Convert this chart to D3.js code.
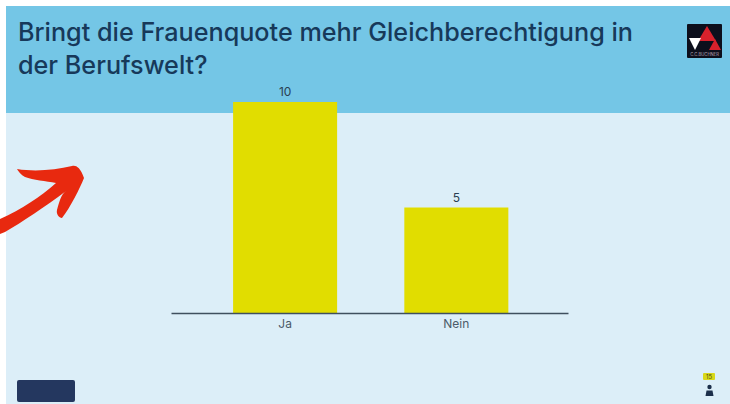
<!DOCTYPE html>
<html lang="de">
<head>
<meta charset="utf-8">
<script src="https://cdn.jsdelivr.net/npm/d3@7"></script>
<style>
  html, body { margin: 0; padding: 0; background: #fff; }
  svg { display: block; }
  text { font-family: "Inter", "Noto Sans", sans-serif; }
</style>
</head>
<body>
<div id="chart"></div>
<script>
// Poll result: answers and vote counts
const answers = ["Ja", "Nein"];
const votes = [10, 5];
const titleLines = ["Bringt die Frauenquote mehr Gleichberechtigung in", "der Berufswelt?"];
const voterCount = "15";

const width = 730, height = 404;
const svg = d3.select("#chart").append("svg").attr("width", width).attr("height", height);

// Slide background and header band
svg.append("rect").attr("x", 6).attr("y", 6).attr("width", width - 6).attr("height", height - 6).attr("fill", "#dceef8");
svg.append("rect").attr("x", 6).attr("y", 6).attr("width", width - 6).attr("height", 107).attr("fill", "#74c6e6");

svg.selectAll("text.title").data(titleLines).join("text")
  .attr("class", "title")
  .attr("x", 18)
  .attr("y", (d, i) => 41 + i * 33)
  .attr("font-size", 25.2)
  .attr("font-weight", 500)
  .attr("fill", "#17395a")
  .text(d => d);

// Publisher badge
const badge = svg.append("g").attr("transform", "translate(687,24)");
badge.append("rect").attr("width", 35).attr("height", 34).attr("rx", 1).attr("fill", "#0d0f1c");
badge.append("path").attr("d", "M20 2L29 17H11Z").attr("fill", "#d8212c");
badge.append("path").attr("d", "M28 15L34 26H22Z").attr("fill", "#d8212c");
badge.append("path").attr("d", "M2 14H14L8 26Z").attr("fill", "#ffffff");
badge.append("text").attr("x", 17.5).attr("y", 32).attr("text-anchor", "middle")
  .attr("font-size", 4.2).attr("fill", "#b9a9b8").text("C.C.BUCHNER");

// Scales
const x = d3.scaleBand().domain(answers).range([171, 568]).paddingInner(0.3925).paddingOuter(0.3555).align(0.51);
const y = d3.scaleLinear().domain([0, 10]).range([313, 102]);

// Bars and their value labels
svg.selectAll("rect.bar").data(votes).join("rect")
  .attr("class", "bar")
  .attr("x", (d, i) => x(answers[i]))
  .attr("y", d => y(d))
  .attr("width", x.bandwidth())
  .attr("height", d => y(0) - y(d))
  .attr("fill", "#e1dd00");

svg.selectAll("text.value").data(votes).join("text")
  .attr("class", "value")
  .attr("x", (d, i) => x(answers[i]) + x.bandwidth() / 2)
  .attr("y", d => y(d) - 6)
  .attr("text-anchor", "middle")
  .attr("font-size", 12)
  .attr("fill", "#2a3f52")
  .text(d => d);

// Category axis
const axis = svg.append("g").attr("transform", "translate(0,313)")
  .call(d3.axisBottom(x).tickSize(0).tickPadding(6));
axis.select(".domain").attr("stroke", "#3f4f5e").attr("stroke-width", 1.5);
axis.selectAll("text").attr("font-size", 12).attr("fill", "#4b5a68").style("font-family", '"Inter", "Noto Sans", sans-serif');

// Hand-drawn red arrow pointing at the chart
svg.append("path")
  .attr("d", "M0 219C22 209 40 197 56 183C46 181 33 180 25 177C21 175 18 171 17 169C35 172 55 170 72 166C76 165 80 167 84 178C80 188 70 208 62 218C59 218 56 214 57 210C59 203 61 194 66 191C45 207 22 222 5 232L0 234Z")
  .attr("fill", "#e8290f");

// Navigation button
svg.append("rect").attr("x", 17).attr("y", 380).attr("width", 58).attr("height", 22).attr("rx", 2).attr("fill", "#24375f");

// Voter count chip and person icon
svg.append("rect").attr("x", 703).attr("y", 373).attr("width", 12).attr("height", 7).attr("rx", 1).attr("fill", "#d9d81a");
svg.append("text").attr("x", 709).attr("y", 379).attr("text-anchor", "middle")
  .attr("font-size", 6).attr("fill", "#4a4a10").text(voterCount);
svg.append("circle").attr("cx", 709.5).attr("cy", 387).attr("r", 2.2).attr("fill", "#1c2f4a");
svg.append("path").attr("d", "M705.5 396L706.5 390.5H712.5L713.5 396Z").attr("fill", "#1c2f4a");
</script>
</body>
</html>
